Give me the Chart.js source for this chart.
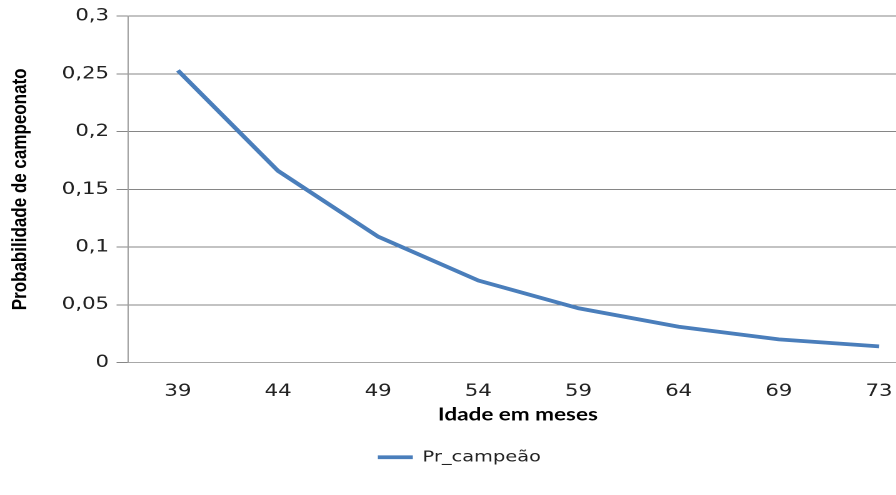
<!DOCTYPE html>
<html>
<head>
<meta charset="utf-8">
<script src="https://cdn.jsdelivr.net/npm/chart.js@4.4.1/dist/chart.umd.min.js"></script>
<style>
  html, body { margin: 0; padding: 0; background: #fff; overflow: hidden; width: 896px; height: 495px; }
  /* o gráfico original aparece esticado na horizontal */
  #wrap { width: 733px; height: 495px; transform: scaleX(1.25); transform-origin: 0 0; }
</style>
</head>
<body>
<div id="wrap"><canvas id="chart" width="733" height="495"></canvas></div>
<script>
// Dados
const idades = ["39", "44", "49", "54", "59", "64", "69", "73"];
const prCampeao = [0.253, 0.166, 0.109, 0.071, 0.047, 0.031, 0.020, 0.014];
const yMin = 0;
const yMax = 0.3;
const yStep = 0.05;

const azul = "#4a7ebb";
const fonteTicks = { family: "'DejaVu Sans', Verdana, sans-serif", size: 17 };
const fmtVirgula = v => String(Math.round(v * 100) / 100).replace(".", ",");

new Chart(document.getElementById("chart"), {
    type: "line",
    data: {
        datasets: [{
            label: "Pr_campeão",
            data: prCampeao.map((p, i) => ({ x: i, y: p })),
            borderColor: azul,
            backgroundColor: azul,
            borderWidth: 3.8,
            pointRadius: 0,
            pointStyle: "line",
            tension: 0,
            fill: false
        }]
    },
    options: {
        responsive: false,
        animation: false,
        devicePixelRatio: 2,
        layout: { padding: { left: 2, top: 0, right: 0, bottom: 20 } },
        plugins: {
            tooltip: { enabled: false },
            legend: {
                position: "bottom",
                labels: {
                    usePointStyle: true,
                    pointStyle: "line",
                    pointStyleWidth: 28,
                    color: "#222",
                    font: { family: "'DejaVu Sans', Verdana, sans-serif", size: 15.5 },
                    padding: 8
                }
            }
        },
        scales: {
            x: {
                type: "linear",
                min: -0.5,
                max: 7.29,
                // uma marca por idade, espaçadas como categorias
                afterBuildTicks: s => { s.ticks = idades.map((_, i) => ({ value: i })); },
                grid: { display: false, drawTicks: false },
                border: { display: true, color: "#a8a8a8", width: 1 },
                ticks: { color: "#222", font: fonteTicks, padding: 19, maxRotation: 0, autoSkip: false,
                         callback: v => idades[v] },
                title: {
                    display: true,
                    text: "Idade em meses",
                    color: "#000",
                    font: { family: "Lato, 'Open Sans', sans-serif", weight: "bold", size: 18 },
                    padding: { top: -17, bottom: 16 }
                }
            },
            y: {
                min: yMin,
                max: yMax,
                grid: { color: "#868686", lineWidth: 1, tickLength: 9, drawTicks: true },
                border: { display: true, color: "#a0a0a0", width: 1 },
                ticks: { stepSize: yStep, color: "#222", font: fonteTicks, padding: 6, callback: v => fmtVirgula(v) },
                title: {
                    display: true,
                    text: "Probabilidade de campeonato",
                    color: "#000",
                    font: { family: "'Liberation Sans', Arial, sans-serif", weight: "bold", size: 17 },
                    padding: { top: 4, bottom: 17 }
                }
            }
        }
    }
});
</script>
</body>
</html>
